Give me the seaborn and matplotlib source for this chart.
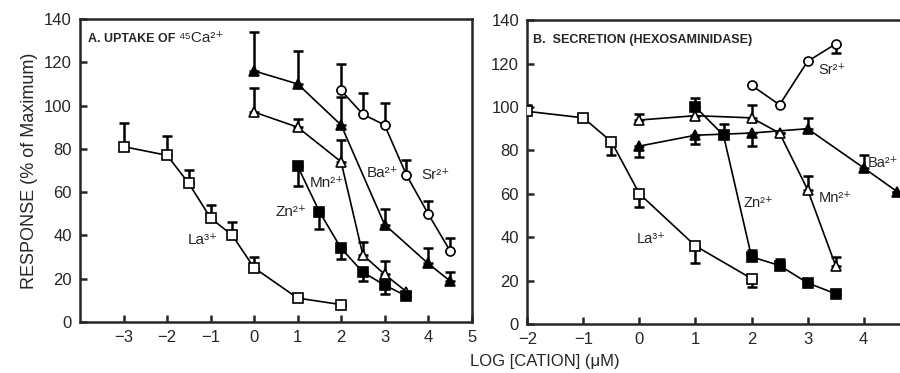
import matplotlib
matplotlib.use("Agg")
import matplotlib.pyplot as plt
import numpy as np
import seaborn as sns

# panel A: uptake of 45Ca2+ (signed err: + upward bar, - downward bar)
a_la_x = [-3, -2, -1.5, -1, -0.5, 0, 1, 2]
a_la_y = [81, 77, 64, 48, 40, 25, 11, 8]
a_la_err = [11, 9, 6, 6, 6, 5, 0, 0]

a_ba_x = [0, 1, 2, 3, 4, 4.5]
a_ba_y = [116, 110, 91, 45, 27, 19]
a_ba_err = [18, 15, 13, 7, 7, 4]

a_sr_x = [2, 2.5, 3, 3.5, 4, 4.5]
a_sr_y = [107, 96, 91, 68, 50, 33]
a_sr_err = [12, 10, 10, 7, 6, 6]

a_mn_x = [0, 1, 2, 2.5, 3, 3.5]
a_mn_y = [97, 90, 74, 31, 22, 14]
a_mn_err = [11, 4, 10, 6, 6, 0]

a_zn_x = [1, 1.5, 2, 2.5, 3, 3.5]
a_zn_y = [72, 51, 34, 23, 17, 12]
a_zn_err = [-9, -8, -5, -4, -4, 0]

# panel B: secretion (hexosaminidase)
b_la_x = [-2, -1, -0.5, 0, 1, 2]
b_la_y = [98, 95, 84, 60, 36, 21]
b_la_err = [3, 0, -6, -6, -8, -4]

b_mn_x = [0, 1, 2, 2.5, 3, 3.5]
b_mn_y = [94, 96, 95, 88, 62, 27]
b_mn_err = [3, 3, 6, 0, 6, 4]

b_ba_x = [0, 1, 2, 3, 4, 4.6]
b_ba_y = [82, 87, 88, 90, 72, 61]
b_ba_err = [-5, -4, -6, 5, 6, 0]

b_zn_x = [1, 1.5, 2, 2.5, 3, 3.5]
b_zn_y = [100, 87, 31, 27, 19, 14]
b_zn_err = [4, 5, 3, 3, 0, 0]

b_sr_x = [2, 2.5, 3, 3.5]
b_sr_y = [110, 101, 121, 129]
b_sr_err = [0, 0, 0, -4]

y_ticks = [0, 20, 40, 60, 80, 100, 120, 140]
a_ticks = [-3, -2, -1, 0, 1, 2, 3, 4, 5]
b_ticks = [-2, -1, 0, 1, 2, 3, 4]

sns.set_style("ticks")
plt.rcParams["font.family"] = ["Liberation Sans", "DejaVu Sans"]

MARKERS = {"la": ("s", "white"), "zn": ("s", "black"), "mn": ("^", "white"),
           "ba": ("^", "black"), "sr": ("o", "white")}


def draw_series(ax, x, y, err, kind):
    err = np.asarray(err, dtype=float)
    lo = np.where(err < 0, -err, 0)
    hi = np.where(err > 0, err, 0)
    ax.errorbar(x, y, yerr=[lo, hi], fmt="none", ecolor="black",
                elinewidth=1.8, capsize=3.8, capthick=1.8, zorder=2)
    marker, face = MARKERS[kind]
    sns.lineplot(x=x, y=y, ax=ax, color="black", linewidth=1.2, marker=marker,
                 markersize=6.5, markerfacecolor=face, markeredgecolor="black",
                 markeredgewidth=1.2, zorder=3)


def style_axis(ax, xlim, xticks):
    ax.set_xlim(*xlim)
    ax.set_ylim(0, 140)
    ax.set_xticks(xticks)
    ax.set_yticks(y_ticks)
    ax.tick_params(direction="in", length=5, width=1.8, labelsize=12, pad=6)
    for sp in ax.spines.values():
        sp.set_linewidth(1.8)


fig = plt.figure(figsize=(9, 3.73), dpi=100)
ax_a = fig.add_axes([0.089, 0.137, 0.435, 0.812])
ax_b = fig.add_axes([0.586, 0.131, 0.414, 0.815])

draw_series(ax_a, a_la_x, a_la_y, a_la_err, "la")
draw_series(ax_a, a_ba_x, a_ba_y, a_ba_err, "ba")
draw_series(ax_a, a_sr_x, a_sr_y, a_sr_err, "sr")
draw_series(ax_a, a_mn_x, a_mn_y, a_mn_err, "mn")
draw_series(ax_a, a_zn_x, a_zn_y, a_zn_err, "zn")
style_axis(ax_a, (-4, 5), a_ticks)
ax_a.set_ylabel("RESPONSE (% of Maximum)", fontsize=13, labelpad=4)
ax_a.text(0.02, 0.955, "A. UPTAKE OF ", transform=ax_a.transAxes,
          fontsize=9, fontweight="bold", va="top")
ax_a.text(0.25, 0.962, "⁴⁵Ca²⁺", transform=ax_a.transAxes, fontsize=11, va="top")
for label, lx, ly in [("La³⁺", -1.52, 38), ("Zn²⁺", 0.5, 51),
                      ("Mn²⁺", 1.29, 64), ("Ba²⁺", 2.6, 69),
                      ("Sr²⁺", 3.84, 68)]:
    ax_a.text(lx, ly, label, fontsize=11, va="center")

draw_series(ax_b, b_la_x, b_la_y, b_la_err, "la")
draw_series(ax_b, b_mn_x, b_mn_y, b_mn_err, "mn")
draw_series(ax_b, b_ba_x, b_ba_y, b_ba_err, "ba")
draw_series(ax_b, b_zn_x, b_zn_y, b_zn_err, "zn")
draw_series(ax_b, b_sr_x, b_sr_y, b_sr_err, "sr")
style_axis(ax_b, (-2, 4.65), b_ticks)
ax_b.spines["right"].set_visible(False)
ax_b.text(0.015, 0.955, "B.  SECRETION (HEXOSAMINIDASE)", transform=ax_b.transAxes,
          fontsize=9, fontweight="bold", va="top")
for label, lx, ly in [("La³⁺", -0.05, 39), ("Zn²⁺", 1.85, 56),
                      ("Mn²⁺", 3.2, 58), ("Ba²⁺", 4.08, 74),
                      ("Sr²⁺", 3.2, 117)]:
    ax_b.text(lx, ly, label, fontsize=10.5, va="center")

fig.text(0.605, 0.02, "LOG [CATION] (μM)", fontsize=12, ha="center")

fig.savefig("out.png", dpi=100)
